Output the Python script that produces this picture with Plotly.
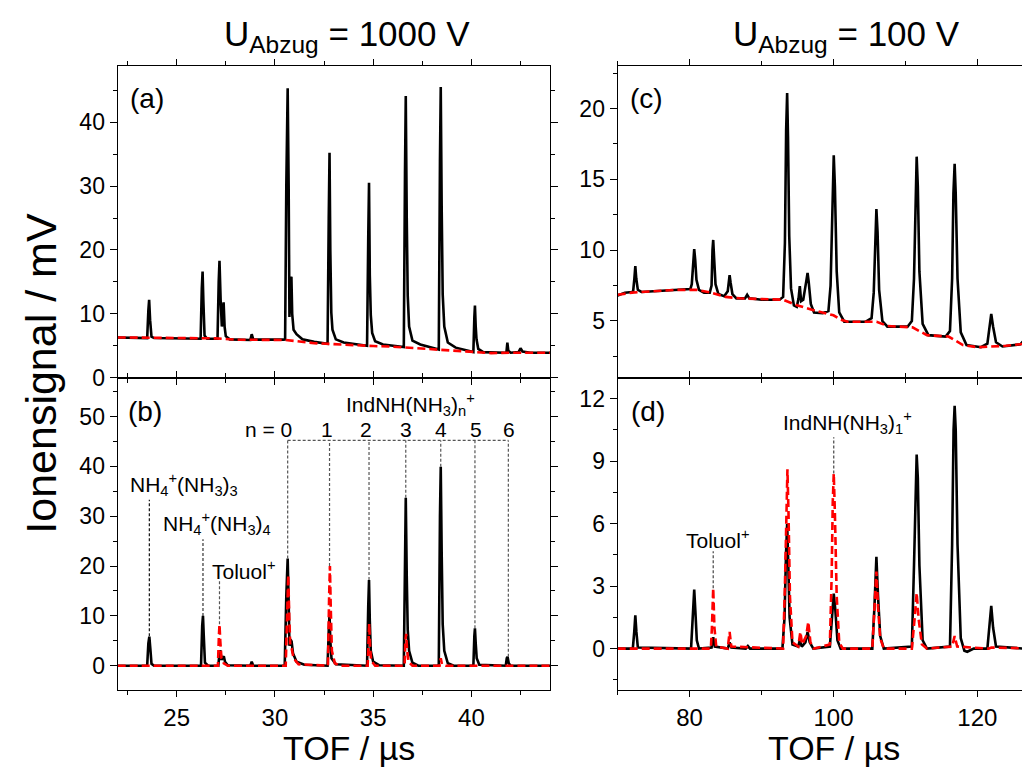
import plotly.graph_objects as go

# ---------------- data ----------------
# Panel (a): U_Abzug = 1000 V, black solid
A_BLACK_X = [22.0, 23.0, 23.50, 23.56, 23.60, 23.65, 23.72, 23.85, 26.0, 26.22, 26.28, 26.32, 26.36, 26.42, 26.55,
             27.08, 27.14, 27.18, 27.24, 27.30, 27.36, 27.39, 27.44, 27.50, 27.70, 28.75, 28.82, 28.90,
             30.45, 30.52, 30.58, 30.65, 30.70, 30.74, 30.79, 30.84, 30.88, 30.95, 31.10, 31.40, 32.00, 32.60,
             32.68, 32.74, 32.78, 32.82, 32.87, 32.93, 33.10, 33.50, 34.60,
             34.69, 34.75, 34.79, 34.83, 34.88, 34.95, 35.10, 35.50, 36.50,
             36.56, 36.62, 36.66, 36.71, 36.76, 36.83, 37.00, 37.40, 38.30,
             38.34, 38.40, 38.44, 38.49, 38.54, 38.62, 38.80, 39.20, 40.05,
             40.10, 40.15, 40.18, 40.22, 40.26, 40.35, 40.60, 41.70,
             41.78, 41.83, 41.88, 42.00, 42.40, 42.50, 42.60, 43.00, 44.0]
A_BLACK_Y = [6.3, 6.2, 6.2, 10.5, 12.2, 9.0, 6.4, 6.2, 6.1, 6.1, 14.0, 16.6, 12.0, 6.6, 6.1,
             6.1, 15.0, 18.3, 12.0, 8.0, 11.0, 11.8, 8.0, 6.5, 6.0, 5.9, 6.8, 5.95,
             5.95, 6.0, 30.0, 45.3, 30.0, 9.5, 15.5, 15.8, 10.0, 7.5, 6.8, 6.0, 5.6, 5.35,
             5.3, 25.0, 35.2, 20.0, 10.2, 7.5, 6.0, 5.5, 5.0,
             5.0, 22.0, 30.5, 16.0, 9.8, 7.0, 5.7, 5.2, 4.8,
             4.8, 32.0, 44.1, 25.0, 12.8, 8.0, 5.8, 5.2, 4.4,
             4.4, 34.0, 45.5, 26.0, 13.0, 8.0, 5.5, 4.7, 4.0,
             4.0, 9.5, 11.3, 8.0, 6.0, 4.5, 4.0, 3.9,
             3.9, 5.5, 4.2, 3.9, 4.0, 4.6, 4.1, 3.9, 3.9]
# Panel (a): red dashed
A_RED_X = [22.0, 24.0, 26.0, 27.0, 28.0, 30.5, 31.0, 32.0, 33.0, 34.0, 35.0, 36.0, 37.0, 38.0, 39.0, 40.0, 41.0, 42.0, 44.0]
A_RED_Y = [6.3, 6.2, 6.1, 6.15, 5.95, 5.9, 5.75, 5.4, 5.25, 5.05, 4.95, 4.85, 4.65, 4.5, 4.2, 4.0, 3.85, 3.9, 3.9]

# Panel (b): black solid
B_BLACK_X = [22.0, 23.50, 23.56, 23.61, 23.66, 23.72, 23.85, 26.24, 26.30, 26.34, 26.38, 26.44, 26.60,
             27.12, 27.18, 27.22, 27.28, 27.34, 27.40, 27.46, 27.60, 28.75, 28.82, 28.90,
             30.50, 30.58, 30.65, 30.70, 30.74, 30.79, 30.85, 30.92, 31.10, 31.50,
             32.68, 32.74, 32.78, 32.82, 32.88, 33.10, 34.69, 34.75, 34.79, 34.83, 34.88, 35.00, 35.30,
             36.56, 36.62, 36.66, 36.71, 36.76, 36.83, 37.00, 37.30,
             38.34, 38.40, 38.44, 38.49, 38.54, 38.62, 38.80, 39.10,
             40.10, 40.15, 40.18, 40.22, 40.27, 40.40, 41.75, 41.80, 41.84, 41.90, 42.00, 44.0]
B_BLACK_Y = [0.0, 0.0, 4.5, 5.85, 3.5, 0.4, 0.0, 0.0, 8.0, 10.0, 6.0, 0.6, 0.0,
             0.0, 2.5, 3.1, 1.2, 1.6, 1.9, 0.8, 0.1, 0.0, 0.8, 0.0,
             0.0, 14.0, 21.5, 13.0, 4.0, 5.3, 4.9, 2.5, 0.8, 0.2,
             0.0, 7.0, 10.3, 5.0, 1.5, 0.3, 0.0, 12.0, 17.2, 9.0, 3.0, 0.8, 0.1,
             0.0, 24.0, 33.7, 18.0, 7.2, 3.0, 0.6, 0.0,
             0.0, 30.0, 39.9, 22.0, 8.3, 3.0, 0.5, 0.0,
             0.0, 6.0, 7.5, 4.5, 1.5, 0.2, 0.0, 1.5, 1.8, 0.5, 0.0, 0.0]
# Panel (b): red dashed
B_RED_X = [22.0, 27.10, 27.15, 27.18, 27.22, 27.28, 27.40, 27.60, 30.55, 30.62, 30.68, 30.73, 30.78, 30.85, 30.95, 31.20,
           32.70, 32.76, 32.80, 32.84, 32.90, 33.05, 33.30, 34.72, 34.77, 34.80, 34.84, 34.90, 35.10,
           36.60, 36.64, 36.68, 36.73, 36.80, 37.00, 38.38, 38.44, 38.50, 38.70, 44.0]
B_RED_Y = [0.0, 0.0, 6.0, 8.3, 5.0, 1.5, 0.5, 0.0, 0.0, 12.0, 18.2, 10.0, 4.0, 3.5, 1.5, 0.3,
           0.0, 14.0, 20.0, 12.0, 3.0, 0.5, 0.0, 0.0, 6.0, 8.5, 4.0, 1.0, 0.0,
           0.0, 5.0, 6.4, 3.0, 0.8, 0.0, 0.0, 1.5, 0.3, 0.0, 0.0]

# Panel (c): U_Abzug = 100 V, black solid
C_BLACK_X = [70.0, 71.0, 72.0, 72.15, 72.32, 72.45, 72.58, 72.80, 73.30, 75.0, 77.0, 79.0, 80.10,
             80.30, 80.50, 80.64, 80.78, 80.95, 81.30, 82.00, 82.80,
             83.05, 83.18, 83.28, 83.40, 83.60, 84.00, 84.80,
             85.30, 85.45, 85.56, 85.70, 85.95, 86.50, 87.70, 88.00, 88.30, 90.0, 92.50,
             93.00, 93.25, 93.42, 93.56, 93.68, 93.85, 94.10, 94.50, 94.90,
             95.15, 95.32, 95.50, 95.80, 96.10, 96.25, 96.40, 96.55, 96.85, 97.30, 98.50, 99.30,
             99.60, 99.85, 100.04, 100.20, 100.45, 100.80, 101.50, 104.50, 105.30,
             105.60, 105.80, 105.97, 106.13, 106.35, 106.80, 107.50, 110.30, 110.90,
             111.20, 111.40, 111.57, 111.73, 111.95, 112.40, 113.20, 115.60, 116.20,
             116.50, 116.68, 116.85, 117.00, 117.25, 117.70, 118.50, 120.50, 121.40,
             121.70, 121.94, 122.20, 122.60, 123.50, 126.00, 126.60, 126.85, 127.10, 127.50, 128.44]
C_BLACK_Y = [6.8, 7.0, 7.05, 7.1, 8.0, 8.88, 8.0, 7.2, 7.05, 7.1, 7.2, 7.25, 7.25,
             7.6, 9.5, 10.08, 9.3, 7.9, 7.2, 7.0, 7.0,
             7.5, 10.0, 10.72, 9.5, 7.6, 6.9, 6.75,
             7.1, 8.0, 8.23, 7.7, 6.9, 6.6, 6.6, 6.85, 6.6, 6.5, 6.5,
             6.7, 10.5, 18.5, 21.1, 18.0, 11.0, 7.3, 6.1, 6.0,
             6.6, 7.47, 6.4, 6.5, 7.3, 7.9, 8.39, 7.8, 6.2, 5.6, 5.55, 5.7,
             7.5, 13.5, 16.7, 14.5, 8.5, 5.6, 4.95, 4.95, 5.2,
             7.0, 11.0, 12.9, 11.3, 7.2, 5.0, 4.6, 4.6, 5.0,
             8.0, 14.0, 16.6, 14.5, 8.5, 4.8, 4.0, 3.9, 4.3,
             8.0, 14.0, 16.1, 14.0, 8.0, 4.2, 3.3, 3.15, 3.4,
             4.6, 5.5, 4.6, 3.5, 3.2, 3.35, 3.7, 4.08, 3.7, 3.45, 3.5]
# Panel (c): red dashed
C_RED_X = [70.0, 72.0, 75.0, 78.0, 81.0, 83.0, 85.0, 87.0, 93.0, 94.0, 95.0, 97.0, 98.5, 100.0, 101.0, 102.0,
           106.0, 107.5, 111.0, 112.0, 113.0, 116.0, 117.0, 118.0, 120.0, 124.0, 128.44]
C_RED_Y = [6.85, 7.0, 7.1, 7.2, 7.2, 7.0, 6.7, 6.6, 6.5, 6.3, 6.1, 5.8, 5.6, 5.4, 5.1, 4.95,
           4.95, 4.65, 4.55, 4.3, 4.0, 3.9, 3.6, 3.3, 3.15, 3.25, 3.5]

# Panel (d): black solid
D_BLACK_X = [70.0, 72.10, 72.30, 72.45, 72.60, 72.80, 80.20, 80.45, 80.64, 80.80, 81.00, 81.30,
             83.05, 83.28, 83.50, 85.30, 85.56, 85.80, 87.80, 88.10, 88.40,
             92.90, 93.20, 93.40, 93.56, 93.70, 93.90, 94.30, 95.10, 95.32, 95.60, 96.10, 96.40, 96.70, 97.20,
             99.50, 99.80, 100.04, 100.25, 100.55, 101.00, 105.40, 105.70, 105.97, 106.20, 106.50, 107.00,
             110.90, 111.20, 111.40, 111.57, 111.73, 111.95, 112.40, 113.00,
             116.20, 116.50, 116.70, 116.85, 117.00, 117.25, 117.70, 118.20, 118.60, 119.50,
             121.40, 121.70, 121.94, 122.20, 122.60, 126.50, 126.85, 127.20, 128.44]
D_BLACK_Y = [0.0, 0.0, 0.8, 1.6, 0.8, 0.05, 0.0, 1.8, 2.83, 1.8, 0.4, 0.0,
             0.05, 0.55, 0.1, 0.0, 0.3, 0.05, 0.0, 0.12, 0.0,
             0.0, 1.5, 4.5, 5.98, 4.3, 1.5, 0.2, 0.1, 0.4, 0.1, 0.3, 0.8, 0.3, 0.0,
             0.1, 1.8, 2.64, 1.9, 0.4, 0.0, 0.0, 2.0, 4.4, 2.5, 0.6, 0.0,
             0.1, 4.0, 8.0, 9.31, 8.2, 4.0, 0.4, 0.0,
             0.1, 5.0, 10.5, 11.65, 10.5, 5.0, 0.5, -0.1, -0.15, 0.0,
             0.0, 1.0, 2.05, 1.0, 0.1, 0.0, 0.38, 0.0, 0.0]
# Panel (d): red dashed
D_RED_X = [70.0, 82.95, 83.10, 83.28, 83.45, 83.70, 85.30, 85.56, 85.80,
           93.00, 93.25, 93.45, 93.60, 93.75, 93.95, 94.30, 95.10, 95.40, 95.65, 96.20, 96.50, 96.80, 97.30,
           99.50, 99.75, 99.90, 100.04, 100.20, 100.45, 100.80, 101.30,
           105.40, 105.70, 105.97, 106.20, 106.50, 107.00, 110.90, 111.30, 111.57, 111.85, 112.30, 113.00,
           116.50, 116.85, 117.20, 121.60, 121.94, 128.44]
D_RED_Y = [0.0, 0.0, 1.0, 2.9, 1.0, 0.1, 0.0, 0.8, 0.1,
           0.0, 3.0, 7.5, 8.6, 6.5, 2.5, 0.3, 0.1, 0.8, 0.2, 0.6, 1.28, 0.3, 0.0,
           0.2, 3.5, 7.0, 8.4, 6.5, 2.5, 0.3, 0.0,
           0.0, 1.8, 3.7, 2.0, 0.5, 0.0, 0.0, 1.5, 2.67, 1.4, 0.2, 0.0,
           0.1, 0.6, 0.1, 0.0, 0.05, 0.0]

# Annotation guide lines in (b): x, top, bottom
B_GUIDE_X = [23.61, 26.34, 27.18]
B_GUIDE_TOP = [33.3, 25.4, 17.2]
B_GUIDE_BOT = [5.9, 10.0, 8.3]
B_GUIDE_COLOR = ["#111111", "#333333", "#555555"]
# IndNH(NH3)n+ series (n = 0..6)
N_LABELS = ["n = 0", "1", "2", "3", "4", "5", "6"]
N_LABEL_X = [29.69, 32.64, 34.65, 36.66, 38.44, 40.21, 41.91]
N_PEAK_X = [30.65, 32.78, 34.79, 36.66, 38.44, 40.18, 41.88]
N_PEAK_TOP = [21.5, 20.0, 17.2, 33.7, 39.9, 7.5, 1.8]
N_BRACKET_Y = 45.2
N_LABEL_Y = 47.3
# guides in (d)
D_GUIDE_X = [83.28, 100.04]
D_GUIDE_TOP = [4.67, 10.14]
D_GUIDE_BOT = [2.9, 8.4]

FONT = "Liberation Sans, Arial, Helvetica, sans-serif"
W, H = 1030, 771

fig = go.Figure()

def add_pair(xb, yb, xr, yr, xa, ya):
    fig.add_trace(go.Scatter(x=xb, y=yb, mode="lines", line=dict(color="black", width=2.6),
                             xaxis=xa, yaxis=ya, showlegend=False, hoverinfo="skip"))
    fig.add_trace(go.Scatter(x=xr, y=yr, mode="lines", line=dict(color="#ff0000", width=2.6, dash="8px,4px"),
                             xaxis=xa, yaxis=ya, showlegend=False, hoverinfo="skip"))

add_pair(A_BLACK_X, A_BLACK_Y, A_RED_X, A_RED_Y, "x", "y")
add_pair(B_BLACK_X, B_BLACK_Y, B_RED_X, B_RED_Y, "x2", "y2")
add_pair(C_BLACK_X, C_BLACK_Y, C_RED_X, C_RED_Y, "x3", "y3")
add_pair(D_BLACK_X, D_BLACK_Y, D_RED_X, D_RED_Y, "x4", "y4")

# pixel geometry -> paper fractions
XL = [109.7 / W, 542.0 / W]
XR = [609.7 / W, 1.0]
YT = [1 - 376.0 / H, 1 - 59.0 / H]
YB = [1 - 694.0 / H, 1 - 376.0 / H]

tickfont = dict(family=FONT, size=23, color="black")

def xax(domain, rng, dtick, mdtick, anchor, labels):
    return dict(domain=domain, range=rng, anchor=anchor, showline=True, linecolor="black", linewidth=1.3,
                mirror="allticks", ticks="outside", ticklen=6, tickwidth=1.3, tickcolor="black",
                dtick=dtick, tick0=0, showticklabels=labels, tickfont=dict(family=FONT, size=24, color="black"),
                minor=dict(dtick=mdtick, tick0=0, ticks="outside", ticklen=4, tickwidth=1.3, tickcolor="black"),
                showgrid=False, zeroline=False, fixedrange=True)

def yax(domain, rng, dtick, mdtick, anchor, mirror):
    return dict(domain=domain, range=rng, anchor=anchor, showline=True, linecolor="black", linewidth=1.3,
                mirror=mirror, ticks="outside", ticklen=7, tickwidth=1.3, tickcolor="black",
                dtick=dtick, tick0=0, tickfont=tickfont,
                minor=dict(dtick=mdtick, tick0=0, ticks="outside", ticklen=4, tickwidth=1.3, tickcolor="black"),
                showgrid=False, zeroline=False, fixedrange=True)

fig.update_layout(
    width=W, height=H, margin=dict(l=0, r=0, t=0, b=0), autosize=False,
    paper_bgcolor="white", plot_bgcolor="white",
    xaxis=xax(XL, [22, 44], 5, 2.5, "y", False),
    yaxis=yax(YT, [0, 48.8], 10, 5, "x", "allticks"),
    xaxis2=xax(XL, [22, 44], 5, 2.5, "y2", True),
    yaxis2=yax(YB, [-4.93, 57.8], 10, 5, "x2", "allticks"),
    xaxis3=xax(XR, [70, 128.44], 20, 10, "y3", False),
    yaxis3=yax(YT, [1.0, 23.0], 5, 2.5, "x3", False),
    xaxis4=xax(XR, [70, 128.44], 20, 10, "y4", True),
    yaxis4=yax(YB, [-2.0, 13.0], 3, 1.5, "x4", False),
)

shapes = []
dash_line = dict(width=1.2, dash="3px,2px")
for x, t, b, c in zip(B_GUIDE_X, B_GUIDE_TOP, B_GUIDE_BOT, B_GUIDE_COLOR):
    shapes.append(dict(type="line", xref="x2", yref="y2", x0=x, x1=x, y0=b, y1=t, line=dict(color=c, **dash_line)))
for x, t in zip(N_PEAK_X, N_PEAK_TOP):
    shapes.append(dict(type="line", xref="x2", yref="y2", x0=x, x1=x, y0=t, y1=N_BRACKET_Y,
                       line=dict(color="#555555", **dash_line)))
shapes.append(dict(type="line", xref="x2", yref="y2", x0=N_PEAK_X[0], x1=N_PEAK_X[-1], y0=N_BRACKET_Y, y1=N_BRACKET_Y,
                   line=dict(color="#555555", **dash_line)))
for x, t, b in zip(D_GUIDE_X, D_GUIDE_TOP, D_GUIDE_BOT):
    shapes.append(dict(type="line", xref="x4", yref="y4", x0=x, x1=x, y0=b, y1=t, line=dict(color="#444444", **dash_line)))
fig.update_layout(shapes=shapes)

ann = []
def txt(text, x, y, xref, yref, size, **kw):
    d = dict(text=text, x=x, y=y, xref=xref, yref=yref, showarrow=False,
             font=dict(family=FONT, size=size, color="black"), xanchor="center", yanchor="middle")
    d.update(kw)
    ann.append(d)

# panel letters
txt("(a)", 138.5 / W, 1 - 92 / H, "paper", "paper", 28)
txt("(b)", 137 / W, 1 - 410 / H, "paper", "paper", 28)
txt("(c)", 638.5 / W, 1 - 92 / H, "paper", "paper", 28)
txt("(d)", 639.5 / W, 1 - 410 / H, "paper", "paper", 28)
# column titles
txt("U<sub>Abzug</sub> = 1000 V", 339 / W, 1 - 28 / H, "paper", "paper", 35)
txt("U<sub>Abzug</sub> = 100 V", 838 / W, 1 - 28 / H, "paper", "paper", 35)
# axis titles
txt("Ionensignal / mV", 33 / W, 1 - 372 / H, "paper", "paper", 43, textangle=-90)
txt("TOF / µs", 341 / W, 1 - 753 / H, "paper", "paper", 34)
txt("TOF / µs", 826 / W, 1 - 753 / H, "paper", "paper", 34)
# labels in (b)
txt("NH<sub>4</sub><sup>+</sup>(NH<sub>3</sub>)<sub>3</sub>", 25.37, 36.3, "x2", "y2", 21)
txt("NH<sub>4</sub><sup>+</sup>(NH<sub>3</sub>)<sub>4</sub>", 27.07, 28.6, "x2", "y2", 21)
txt("Toluol<sup>+</sup>", 28.38, 19.2, "x2", "y2", 21)
txt("IndNH(NH<sub>3</sub>)<sub>n</sub><sup>+</sup>", 36.9, 52.4, "x2", "y2", 21)
for lab, lx in zip(N_LABELS, N_LABEL_X):
    txt(lab, lx, N_LABEL_Y, "x2", "y2", 21)
# labels in (d)
txt("Toluol<sup>+</sup>", 83.86, 5.27, "x4", "y4", 21)
txt("IndNH(NH<sub>3</sub>)<sub>1</sub><sup>+</sup>", 101.9, 10.85, "x4", "y4", 21)
fig.update_layout(annotations=ann)

fig.write_html("out.html")
